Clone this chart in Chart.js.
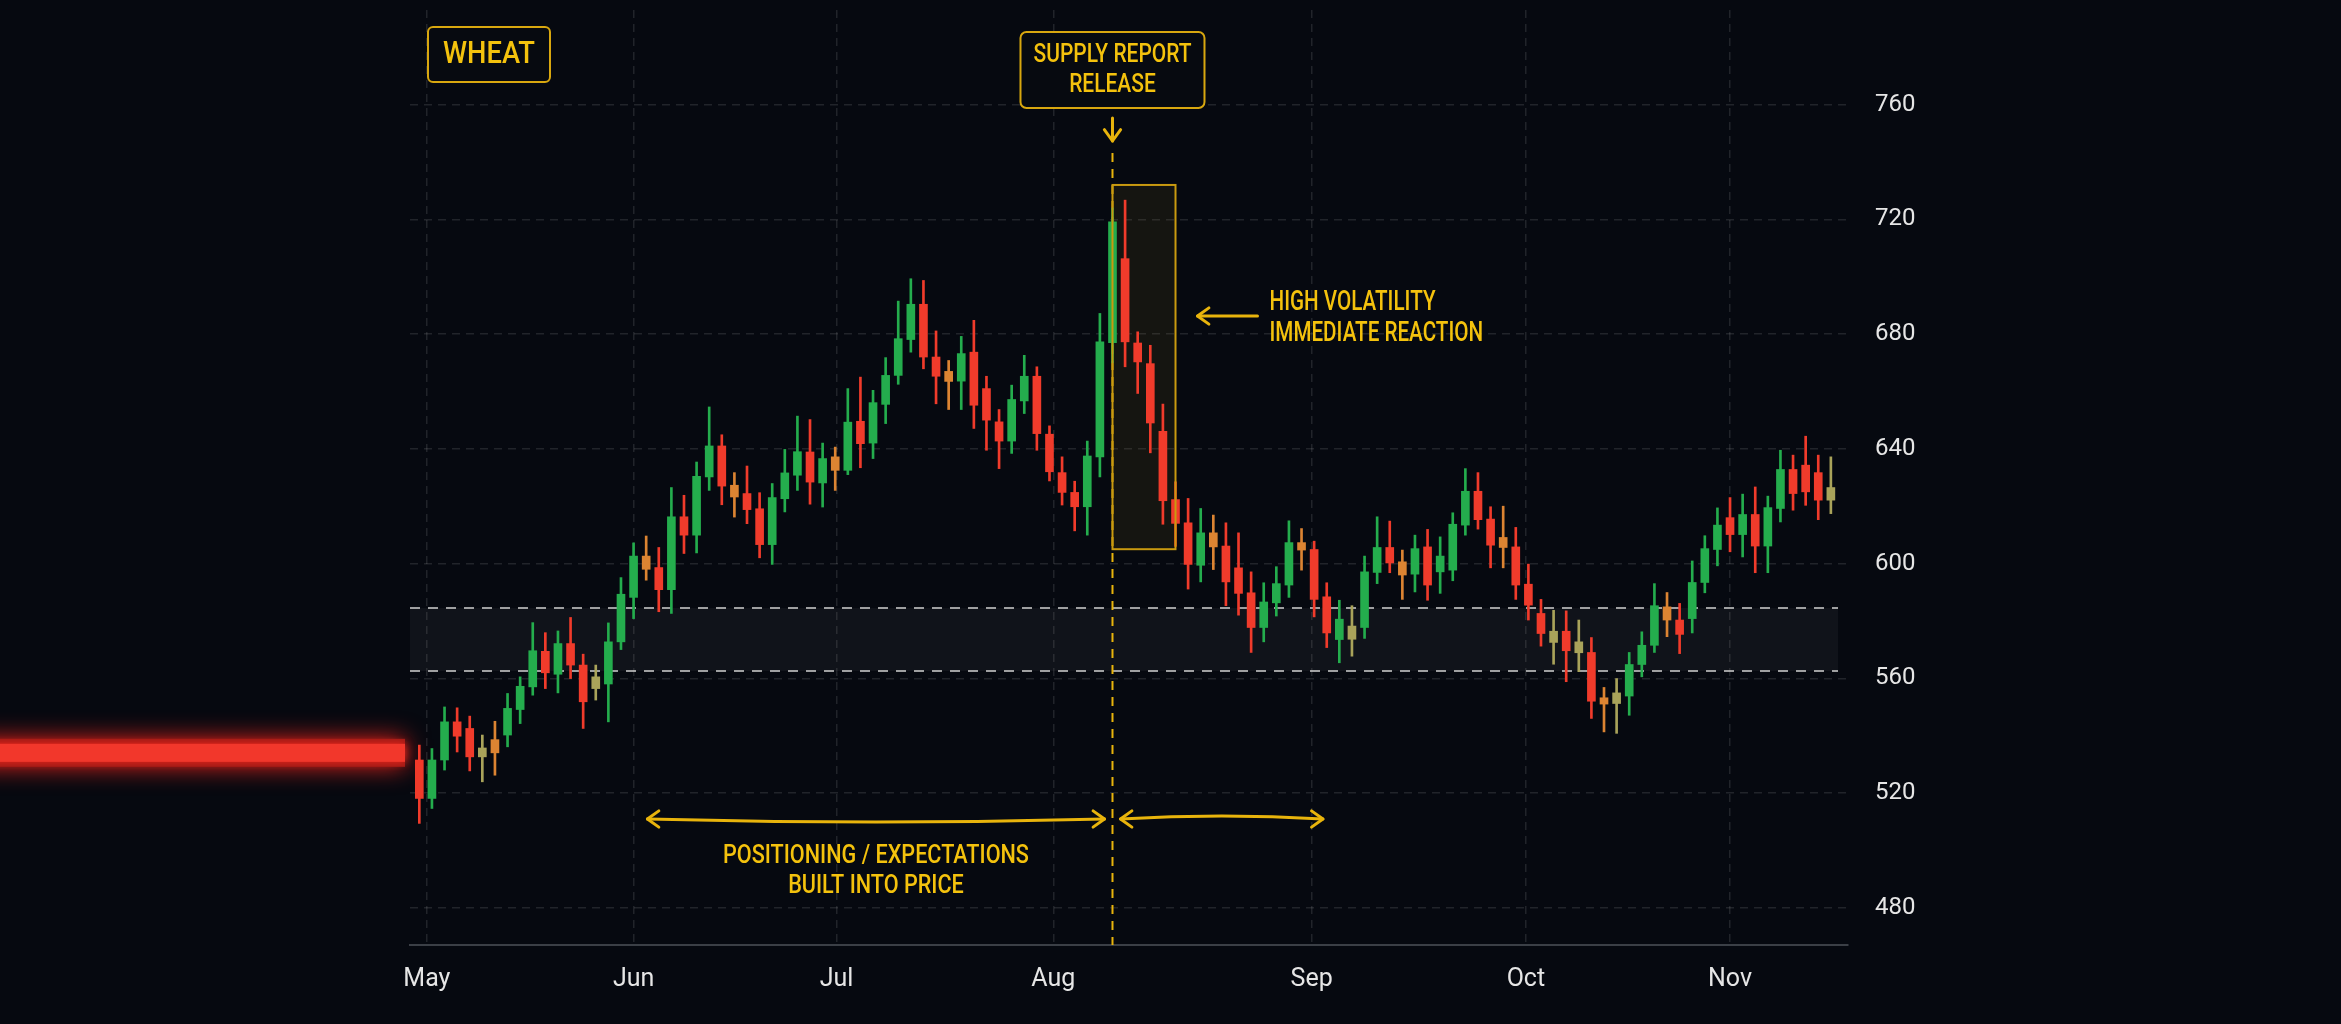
<!DOCTYPE html>
<html>
<head>
<meta charset="utf-8">
<title>Wheat – supply report release</title>
<script src="https://cdn.jsdelivr.net/npm/chart.js@4.4.1/dist/chart.umd.min.js"></script>
<style>
  html, body { margin: 0; padding: 0; background: #060910; }
  #wrap { position: relative; width: 2341px; height: 1024px; }
</style>
</head>
<body>
<div id="wrap"><canvas id="wheatChart"></canvas></div>
<script>
// ---- daily candles (one per trading day, May -> mid Nov) ----
const opens = [
  531.5, 518.1, 531.5, 544.8, 542.5, 532.6, 538.6, 540.2, 549.1, 557.0,
  569.4, 561.4, 572.1, 564.6, 556.4, 558.0, 572.7, 588.2, 602.6, 598.6,
  590.9, 616.3, 609.9, 630.2, 641.0, 627.3, 624.4, 619.1, 606.6, 622.6,
  630.8, 638.9, 628.1, 637.2, 632.5, 649.6, 642.0, 655.5, 665.6, 678.1,
  690.4, 672.0, 667.0, 663.6, 673.7, 661.0, 649.4, 642.7, 656.7, 665.3,
  645.1, 631.7, 624.8, 619.8, 637.2, 677.0, 706.3, 676.9, 669.7, 646.1,
  622.3, 614.2, 599.4, 610.7, 606.1, 598.5, 589.8, 577.7, 586.3, 592.5,
  607.3, 604.9, 588.4, 573.5, 573.6, 577.7, 596.9, 605.6, 600.6, 596.3,
  605.8, 597.1, 597.7, 613.4, 625.2, 615.5, 609.1, 605.8, 592.8, 582.6,
  572.5, 576.4, 568.9, 569.0, 553.2, 551.2, 553.8, 564.8, 571.5, 584.9,
  580.3, 580.8, 593.4, 604.9, 616.0, 610.1, 617.1, 606.1, 619.2, 632.8,
  634.3, 631.7, 622.1
];
const highs = [
  536.7, 535.5, 550.0, 549.7, 546.8, 540.2, 545.0, 554.7, 560.5, 579.4,
  575.9, 576.5, 581.2, 568.4, 564.6, 579.3, 595.1, 607.2, 609.6, 605.6,
  626.5, 623.8, 635.4, 654.6, 644.9, 631.7, 634.0, 624.7, 627.9, 639.8,
  651.4, 650.2, 642.0, 640.6, 661.0, 665.0, 660.4, 671.8, 691.5, 699.3,
  698.7, 681.1, 670.8, 679.2, 684.8, 665.3, 653.7, 662.2, 672.6, 668.6,
  648.0, 637.2, 628.7, 642.7, 687.2, 724.0, 726.7, 680.8, 676.1, 655.6,
  628.5, 622.7, 619.2, 616.9, 614.2, 610.7, 597.1, 593.3, 598.9, 614.9,
  612.2, 607.8, 593.3, 587.2, 585.3, 602.6, 616.3, 614.8, 604.7, 609.9,
  611.9, 609.3, 617.7, 633.1, 631.7, 619.8, 620.0, 612.6, 599.8, 587.5,
  583.7, 583.5, 580.3, 574.2, 556.8, 559.9, 569.0, 576.2, 593.0, 589.9,
  586.1, 600.9, 609.7, 619.4, 623.0, 624.2, 626.7, 623.5, 639.5, 637.8,
  644.4, 637.8, 637.2
];
const lows = [
  509.4, 514.6, 528.0, 534.3, 527.7, 523.9, 526.2, 536.1, 544.2, 554.1,
  556.4, 554.9, 559.9, 542.5, 552.4, 544.8, 570.0, 580.8, 594.2, 583.2,
  582.6, 603.5, 603.7, 625.5, 620.5, 616.2, 613.9, 602.0, 599.7, 618.0,
  625.5, 620.7, 619.7, 625.5, 631.0, 633.4, 636.6, 648.8, 662.5, 673.7,
  667.9, 655.7, 653.7, 653.7, 647.1, 639.5, 633.1, 638.4, 652.3, 639.5,
  628.8, 620.4, 611.4, 609.9, 630.2, 670.0, 668.6, 659.3, 638.6, 613.7,
  606.0, 591.1, 593.6, 597.9, 585.3, 582.0, 569.0, 572.7, 581.7, 588.2,
  597.7, 581.4, 570.7, 565.4, 567.7, 573.9, 593.0, 596.8, 587.5, 590.1,
  587.2, 589.6, 594.0, 609.9, 612.0, 598.5, 598.5, 587.5, 580.3, 571.2,
  564.9, 558.8, 562.3, 546.0, 541.3, 540.8, 547.1, 560.5, 569.0, 574.5,
  568.6, 575.8, 589.8, 599.2, 604.1, 602.3, 596.8, 596.8, 614.5, 618.6,
  620.3, 615.3, 617.4
];
const closes = [
  518.1, 531.5, 544.8, 539.8, 532.6, 535.7, 534.0, 549.5, 557.2, 569.6,
  561.9, 572.1, 564.6, 551.8, 560.5, 572.7, 589.3, 602.6, 598.0, 590.9,
  616.3, 609.9, 630.4, 641.0, 627.0, 623.2, 618.8, 606.6, 623.0, 631.6,
  639.0, 628.4, 636.6, 632.5, 649.3, 641.8, 656.1, 665.6, 678.4, 690.4,
  672.0, 665.3, 663.5, 673.2, 655.2, 650.0, 642.7, 657.2, 665.3, 645.3,
  632.0, 624.8, 619.8, 637.5, 677.3, 719.1, 677.3, 670.3, 649.0, 621.9,
  614.0, 599.7, 610.7, 605.8, 593.6, 589.6, 577.7, 586.6, 593.0, 607.3,
  604.7, 587.5, 575.8, 580.6, 578.2, 597.1, 605.6, 600.2, 596.0, 605.2,
  592.5, 602.6, 613.7, 625.2, 615.3, 606.4, 605.6, 592.5, 585.5, 575.6,
  576.4, 569.6, 572.7, 552.0, 551.0, 554.9, 564.8, 571.5, 585.3, 580.3,
  575.3, 593.4, 605.2, 613.4, 610.1, 617.1, 606.1, 619.5, 632.8, 624.4,
  625.0, 622.1, 626.5
];

// month ticks, in candle-index units
const monthLabels = ['May', 'Jun', 'Jul', 'Aug', 'Sep', 'Oct', 'Nov'];
const monthPos = [0.6, 17.0, 33.1, 50.3, 70.8, 87.8, 104.0];
const priceTicks = [480, 520, 560, 600, 640, 680, 720, 760];

// annotation data
const expectationBand = [562.5, 584.5];   // low, high
const reportIndex = 55;                    // supply report candle
const reactionRange = [55, 60];            // candle span of the reaction box
const reactionPrices = [605, 732];         // low, high of the reaction box
const positioningSpan = [18.1, 71.7];      // candle span of the bottom arrows
const glowLevel = 534;

const AMBER = '#f4c20d';
const AMBER_LINE = '#e8b40c';

function candleColor(c) {
  const i = c.dataIndex;
  const up = closes[i] >= opens[i];
  const small = Math.abs(closes[i] - opens[i]) < 5;
  if (small) return up ? '#a9a35a' : '#dc8432';
  return up ? '#24ad4d' : '#f03b2b';
}

function drawLines(ctx, lines, x, y, size, gap, firstWidth, align) {
  ctx.font = `500 ${size}px Roboto, "DejaVu Sans", sans-serif`;
  const k = firstWidth / ctx.measureText(lines[0]).width;
  ctx.fillStyle = AMBER;
  ctx.textBaseline = 'middle';
  ctx.textAlign = align;
  lines.forEach((t, n) => {
    ctx.save();
    ctx.translate(x, y + n * gap);
    ctx.scale(k, 1);
    ctx.fillText(t, 0, 0);
    ctx.restore();
  });
}

function roundBox(ctx, x, y, w, h, r) {
  ctx.beginPath();
  ctx.roundRect(x, y, w, h, r);
  ctx.fillStyle = '#070a10';
  ctx.fill();
  ctx.lineWidth = 2;
  ctx.strokeStyle = '#d8a70f';
  ctx.stroke();
}

function head(ctx, tx, ty, ang) {
  const len = 14, spread = 0.62;
  ctx.beginPath();
  ctx.moveTo(tx - len * Math.cos(ang - spread), ty - len * Math.sin(ang - spread));
  ctx.lineTo(tx, ty);
  ctx.lineTo(tx - len * Math.cos(ang + spread), ty - len * Math.sin(ang + spread));
  ctx.stroke();
}

function doubleArrow(ctx, x1, x2, y, bow) {
  ctx.beginPath();
  ctx.moveTo(x1, y);
  ctx.quadraticCurveTo((x1 + x2) / 2, y + bow * 2, x2, y);
  ctx.stroke();
  head(ctx, x1, y, Math.PI);
  head(ctx, x2, y, 0);
}

const overlay = {
  id: 'overlay',
  beforeDatasetsDraw(chart) {
    const { ctx, chartArea: a, scales: { x, y } } = chart;
    ctx.save();

    // expectation band
    const bTop = y.getPixelForValue(expectationBand[1]);
    const bBot = y.getPixelForValue(expectationBand[0]);
    ctx.fillStyle = 'rgba(255,255,255,0.045)';
    ctx.fillRect(a.left, bTop, a.right - a.left - 10, bBot - bTop);
    ctx.strokeStyle = 'rgba(210,210,210,0.75)';
    ctx.lineWidth = 2;
    ctx.setLineDash([10, 8]);
    [bTop, bBot].forEach(py => {
      ctx.beginPath();
      ctx.moveTo(a.left, py);
      ctx.lineTo(a.right - 10, py);
      ctx.stroke();
    });

    // reaction box fill
    const rx1 = x.getPixelForValue(reactionRange[0]);
    const rx2 = x.getPixelForValue(reactionRange[1]);
    const ry1 = y.getPixelForValue(reactionPrices[1]);
    const ry2 = y.getPixelForValue(reactionPrices[0]);
    ctx.setLineDash([]);
    ctx.fillStyle = 'rgba(200,170,40,0.08)';
    ctx.fillRect(rx1, ry1, rx2 - rx1, ry2 - ry1);

    // report release dashed line
    const ex = x.getPixelForValue(reportIndex);
    ctx.strokeStyle = AMBER_LINE;
    ctx.lineWidth = 2;
    ctx.setLineDash([9, 7]);
    ctx.beginPath();
    ctx.moveTo(ex, 153);
    ctx.lineTo(ex, a.bottom);
    ctx.stroke();
    ctx.restore();
  },
  afterDatasetsDraw(chart) {
    const { ctx, chartArea: a, scales: { x, y } } = chart;
    const ex = x.getPixelForValue(reportIndex);
    ctx.save();

    // reaction box outline
    const rx1 = x.getPixelForValue(reactionRange[0]);
    const rx2 = x.getPixelForValue(reactionRange[1]);
    const ry1 = y.getPixelForValue(reactionPrices[1]);
    const ry2 = y.getPixelForValue(reactionPrices[0]);
    ctx.strokeStyle = '#c99a10';
    ctx.lineWidth = 2;
    ctx.strokeRect(rx1, ry1, rx2 - rx1, ry2 - ry1);

    // WHEAT tag
    roundBox(ctx, a.left + 18, 27, 122, 55, 5);
    drawLines(ctx, ['WHEAT'], a.left + 79, 55, 31, 0, 92, 'center');

    // supply report tag
    roundBox(ctx, ex - 92, 32, 184, 76, 6);
    drawLines(ctx, ['SUPPLY REPORT', 'RELEASE'], ex, 56, 25, 30, 158, 'center');

    ctx.strokeStyle = AMBER_LINE;
    ctx.lineWidth = 3;
    ctx.lineCap = 'round';
    ctx.lineJoin = 'round';
    ctx.beginPath();
    ctx.moveTo(ex, 118);
    ctx.lineTo(ex, 141);
    ctx.stroke();
    head(ctx, ex, 141, Math.PI / 2);

    // high volatility note
    ctx.beginPath();
    ctx.moveTo(rx2 + 82, 316);
    ctx.lineTo(rx2 + 22, 316);
    ctx.stroke();
    head(ctx, rx2 + 22, 316, Math.PI);
    drawLines(ctx, ['HIGH VOLATILITY', 'IMMEDIATE REACTION'], rx2 + 94, 303, 27, 31, 166, 'left');

    // positioning arrows
    const lx1 = x.getPixelForValue(positioningSpan[0]);
    const rx3 = x.getPixelForValue(positioningSpan[1]);
    doubleArrow(ctx, lx1, ex - 8, 819, 3);
    doubleArrow(ctx, ex + 8, rx3, 819, -3);
    drawLines(ctx, ['POSITIONING / EXPECTATIONS', 'BUILT INTO PRICE'],
      (lx1 + ex - 8) / 2, 856, 26, 30, 306, 'center');
    ctx.restore();
  },
  afterDraw(chart) {
    const { ctx, chartArea: a, scales: { y } } = chart;
    const gy = y.getPixelForValue(glowLevel);
    ctx.save();
    ctx.shadowColor = 'rgba(255,40,30,0.9)';
    ctx.shadowBlur = 24;
    ctx.fillStyle = '#9e1b16';
    ctx.fillRect(-30, gy - 14, a.left - 5 + 30, 28);
    ctx.shadowBlur = 8;
    ctx.fillStyle = '#f2372b';
    ctx.fillRect(-30, gy - 9, a.left - 5 + 30, 18);
    ctx.restore();
  }
};

const idx = opens.map((_, i) => i);
const bodies = idx.map(i => ({ x: i, y: [opens[i], closes[i]] }));
const wicks = idx.map(i => ({ x: i, y: [lows[i], highs[i]] }));

const gridColor = 'rgba(255,255,255,0.11)';

new Chart(document.getElementById('wheatChart'), {
  type: 'bar',
  data: {
    datasets: [
      { label: 'range', data: wicks, backgroundColor: candleColor, barThickness: 2, grouped: false, order: 2 },
      { label: 'body', data: bodies, backgroundColor: candleColor, barThickness: 8, grouped: false, order: 1 }
    ]
  },
  options: {
    responsive: true,
    maintainAspectRatio: false,
    animation: false,
    layout: { padding: { left: 410, top: 10, right: 0, bottom: 0 } },
    plugins: { legend: { display: false }, tooltip: { enabled: false } },
    scales: {
      x: {
        type: 'linear',
        min: -0.74,
        max: 113.36,
        offset: false,
        afterBuildTicks: s => { s.ticks = monthPos.map(v => ({ value: v })); },
        afterFit: s => { s.height = 79; s.paddingLeft = 0; s.paddingRight = 0; },
        ticks: {
          callback: (v, i) => monthLabels[i],
          color: '#e6e6e6',
          font: { family: 'Roboto', size: 25 },
          padding: 20,
          autoSkip: false,
          maxRotation: 0
        },
        grid: { color: gridColor, lineWidth: 1.5, drawTicks: false, offset: false },
        border: { display: true, color: '#3b3f46', width: 2, dash: [8, 6] }
      },
      y: {
        position: 'right',
        min: 467,
        max: 793,
        afterBuildTicks: s => { s.ticks = priceTicks.map(v => ({ value: v })); },
        afterFit: s => { s.width = 493; s.paddingTop = 0; s.paddingBottom = 0; },
        ticks: {
          callback: v => String(v),
          color: '#e6e6e6',
          font: { family: 'Roboto', size: 24 },
          padding: 27
        },
        grid: { color: gridColor, lineWidth: 1.5, drawTicks: false },
        border: { display: false, dash: [8, 6] }
      }
    }
  },
  plugins: [overlay]
});
</script>
</body>
</html>
